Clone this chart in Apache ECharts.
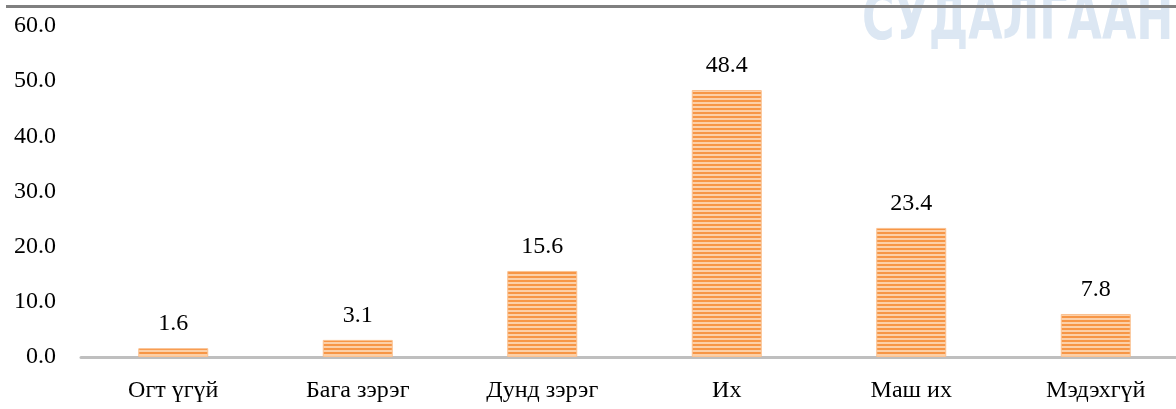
<!DOCTYPE html>
<html>
<head>
<meta charset="utf-8">
<script src="https://cdn.jsdelivr.net/npm/echarts@6/dist/echarts.min.js"></script>
<style>
  html, body { margin: 0; padding: 0; background: #fff; overflow: hidden; }
  #chart { width: 1188px; height: 409px; }
</style>
</head>
<body>
<div id="chart"></div>
<script>
const categories = ["Огт үгүй", "Бага зэрэг", "Дунд зэрэг", "Их", "Маш их", "Мэдэхгүй"];
const values = [1.6, 3.1, 15.6, 48.4, 23.4, 7.8];
const yTicks = [0, 10, 20, 30, 40, 50, 60];

// striped fill for the bars
function stripes() {
  const c = document.createElement("canvas");
  c.width = 8;
  c.height = 4;
  const ctx = c.getContext("2d");
  ctx.fillStyle = "#fcd0a8";
  ctx.fillRect(0, 0, 8, 4);
  ctx.fillStyle = "#f79646";
  ctx.fillRect(0, 0, 8, 2);
  return c;
}

const font = "'Liberation Serif', 'DejaVu Serif', serif";
const chart = echarts.init(document.getElementById("chart"));
chart.setOption({
  animation: false,
  grid: { left: 81, right: 0, top: 26, bottom: 52 },
  graphic: [
    {
      type: "text",
      left: 862,
      top: -10,
      z: 1,
      style: {
        text: "СУДАЛГААНЫ",
        font: "bold 64px 'DejaVu Sans Condensed', 'DejaVu Sans', sans-serif",
        fill: "#dce7f3",
      },
      scaleX: 0.77,
    },
    {
      type: "rect",
      z: 2,
      shape: { x: 6, y: 5, width: 1182, height: 3 },
      style: { fill: "#808080" },
    },
  ],
  xAxis: {
    type: "category",
    data: categories,
    axisLine: { lineStyle: { color: "#bfbfbf", width: 3 } },
    axisTick: { show: false },
    axisLabel: { color: "#000", fontFamily: font, fontSize: 24, margin: 22 },
  },
  yAxis: {
    type: "value",
    min: yTicks[0],
    max: yTicks[yTicks.length - 1],
    interval: 10,
    splitLine: { show: false },
    axisLine: { show: false },
    axisTick: { show: false },
    axisLabel: {
      color: "#000",
      fontFamily: font,
      fontSize: 24,
      margin: 25,
      formatter: (v) => v.toFixed(1),
    },
  },
  series: [
    {
      type: "bar",
      data: values,
      barWidth: 70,
      itemStyle: {
        color: { image: stripes(), repeat: "repeat" },
        borderColor: "#fbc190",
        borderWidth: 1,
      },
      label: {
        show: true,
        position: "top",
        distance: 12,
        color: "#000",
        fontFamily: font,
        fontSize: 24,
        formatter: (p) => p.value.toFixed(1),
      },
    },
  ],
});
</script>
</body>
</html>
